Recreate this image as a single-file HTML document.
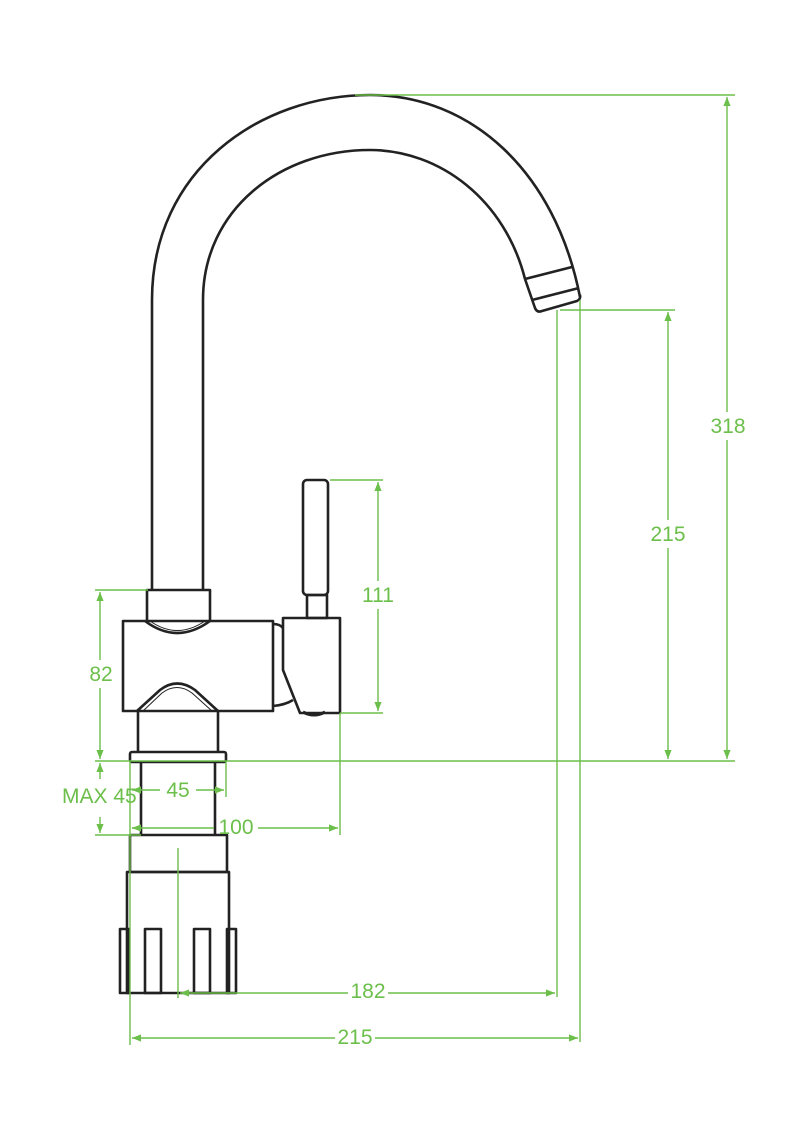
<!DOCTYPE html>
<html><head><meta charset="utf-8"><style>
html,body{margin:0;padding:0;background:#fff}
svg{display:block}
text{font-family:"Liberation Sans",sans-serif;font-size:21px;fill:#6cbf4a}
</style></head><body>
<svg width="794" height="1123" viewBox="0 0 794 1123" xmlns="http://www.w3.org/2000/svg">
<defs>
<marker id="a" viewBox="0 0 10 10" refX="10" refY="5" markerWidth="9" markerHeight="9" orient="auto-start-reverse" markerUnits="userSpaceOnUse"><path d="M0,1 L10,5 L0,9 z" fill="#6cbf4a"/></marker>
</defs>
<g fill="none" stroke="#222" stroke-width="2.6" stroke-linejoin="round">
<path d="M152,590 L152,300 C152,170 260,95 370,95 C470,95 555,170 580,297"/>
<path d="M203,590 L203,300 C203,210 280,150 370,150 C440,150 505,200 525,279"/>
<path d="M525,279 L535,308 Q537,313 542,311 L577,301 Q581,299 580,295"/>
<path d="M525,279 L572,267"/>
<path d="M532,300 L579,288"/>
<path d="M147,620 L147,590 L210,590 L210,620"/>
<rect x="123" y="621" width="150" height="90" fill="#fff"/>
<path d="M145,621 Q177,645 210,621"/>
<path d="M150,621 Q177,640 205,621" stroke-width="1"/>
<path d="M137,711 L160,690 Q177,677 195,690 L218,711"/>
<path d="M143,711 L162,693 Q177,682 192,693 L212,711" stroke-width="1"/>
<path d="M138,711 L138,752 M218,711 L218,752"/>
<rect x="130" y="752" width="96" height="10" rx="2"/>
<path d="M141,762 L141,835 M215,762 L215,835"/>
<path d="M273,624 Q280,624 283,628 M273,706 Q285,705 293,700"/>
<path d="M283,618 L340,618 L340,713 L300,713 L283,670 Z"/>
<path d="M303,712 Q314,718 325,712" stroke-width="3"/>
<rect x="307" y="595" width="20" height="23"/>
<rect x="303" y="480" width="25" height="115" rx="4"/>
<rect x="130" y="835" width="97" height="37"/>
<rect x="127" y="872" width="102" height="121"/>
<rect x="120" y="929" width="9" height="64"/>
<rect x="145" y="929" width="16" height="64"/>
<rect x="194" y="929" width="16" height="64"/>
<rect x="227" y="929" width="9" height="64"/>
</g>
<g fill="none" stroke="#6cbf4a" stroke-width="1.4">
<path d="M95,761 H735"/>
<path d="M355,95 H735"/>
<path d="M560,310 H675"/>
<path d="M330,480 H383 M340,713 H383"/>
<path d="M95,590 H148"/>
<path d="M95,835 H141"/>
<path d="M557,310 V997 M580,300 V1042"/>
<path d="M130,761 V1045 M226,761 V797 M340,713 V835"/>
<path d="M178,848 V998"/>
<path d="M727,97 V759" marker-start="url(#a)" marker-end="url(#a)"/>
<path d="M668,312 V759" marker-start="url(#a)" marker-end="url(#a)"/>
<path d="M378,482 V711" marker-start="url(#a)" marker-end="url(#a)"/>
<path d="M100,592 V759" marker-start="url(#a)" marker-end="url(#a)"/>
<path d="M100,779 V763" marker-end="url(#a)"/>
<path d="M100,817 V833" marker-end="url(#a)"/>
<path d="M132,790 H224" marker-start="url(#a)" marker-end="url(#a)"/>
<path d="M132,828 H214 M258,828 H338" marker-end="url(#a)"/>
<path d="M141,828 L132,828" marker-end="url(#a)"/>
<path d="M180,993 H555" marker-start="url(#a)" marker-end="url(#a)"/>
<path d="M132,1038 H578" marker-start="url(#a)" marker-end="url(#a)"/>
</g>
<g>
<rect x="706" y="412" width="44" height="28" fill="#fff"/>
<text x="728" y="433" text-anchor="middle">318</text>
<rect x="646" y="520" width="44" height="28" fill="#fff"/>
<text x="668" y="541" text-anchor="middle">215</text>
<rect x="356" y="581" width="44" height="28" fill="#fff"/>
<text x="378" y="602" text-anchor="middle">111</text>
<rect x="86" y="660" width="30" height="28" fill="#fff"/>
<text x="101" y="681" text-anchor="middle">82</text>
<text x="62" y="803">MAX 45</text>
<rect x="160" y="777" width="36" height="26" fill="#fff"/>
<text x="178" y="797" text-anchor="middle">45</text>
<text x="236" y="834" text-anchor="middle">100</text>
<rect x="348" y="980" width="40" height="26" fill="#fff"/>
<text x="368" y="998" text-anchor="middle">182</text>
<rect x="335" y="1025" width="40" height="26" fill="#fff"/>
<text x="355" y="1044" text-anchor="middle">215</text>
</g>
</svg>
</body></html>
